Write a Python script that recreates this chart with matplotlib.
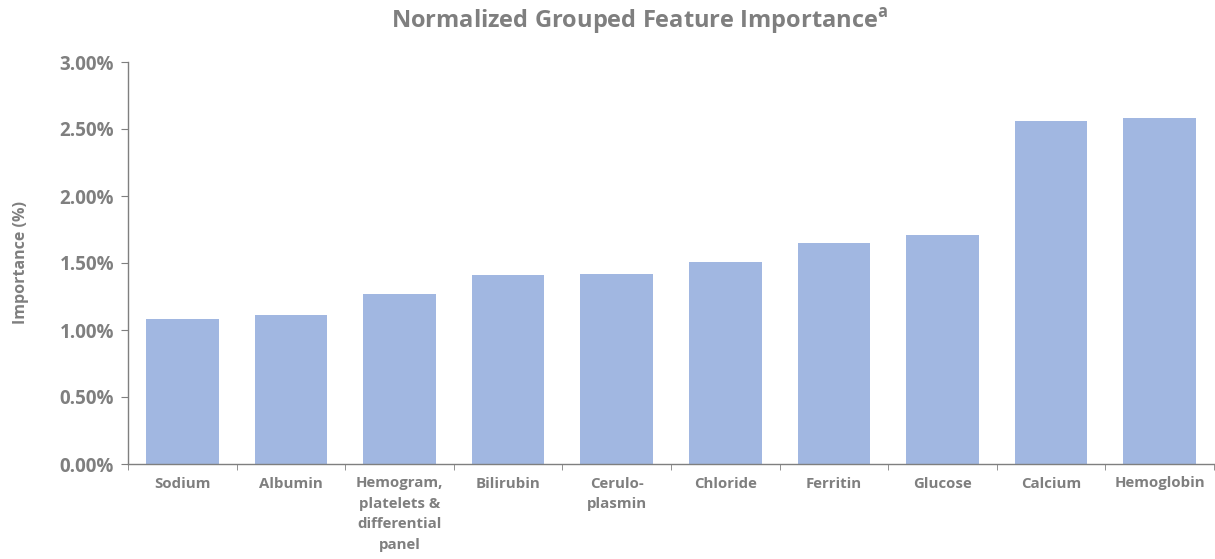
import matplotlib.pyplot as plt
from matplotlib.ticker import PercentFormatter
import numpy as np

# --- Data ---
categories = ["Sodium", "Albumin", "Hemogram,\nplatelets &\ndifferential\npanel",
              "Bilirubin", "Cerulo-\nplasmin", "Chloride", "Ferritin",
              "Glucose", "Calcium", "Hemoglobin"]
importance = [1.08, 1.11, 1.27, 1.41, 1.42, 1.51, 1.65, 1.71, 2.56, 2.58]

GRAY = "#7F7F7F"
BAR = "#A1B7E1"

plt.rcParams["font.family"] = ["Open Sans", "DejaVu Sans"]
plt.rcParams["mathtext.fontset"] = "custom"
plt.rcParams["mathtext.rm"] = "Open Sans"
plt.rcParams["mathtext.bf"] = "Open Sans:bold"

fig = plt.figure(figsize=(12.15, 5.59), dpi=100)
ax = fig.add_axes([128 / 1215, 1 - 464 / 559, 1086 / 1215, 402 / 559])

x = np.arange(len(categories))
ax.bar(x, importance, width=0.67, color=BAR)

ax.set_xlim(-0.5, len(categories) - 0.5)
ax.set_ylim(0, 3.0)
ax.set_yticks(np.arange(0, 3.01, 0.5))
ax.yaxis.set_major_formatter(PercentFormatter(decimals=2))

# category labels centred, ticks on the boundaries
ax.set_xticks(x)
ax.set_xticklabels(categories, fontsize=10.8, fontweight="bold", color=GRAY,
                   linespacing=1.58, va="top")
ax.tick_params(axis="x", length=0, pad=9)
ax.set_xticks(np.arange(-0.5, len(categories)), minor=True)
ax.tick_params(axis="x", which="minor", length=4, color=GRAY, direction="out")

ax.tick_params(axis="y", length=5, color=GRAY, labelsize=13.5,
               labelcolor=GRAY, pad=5)
for lab in ax.get_yticklabels():
    lab.set_fontweight("bold")

for s in ["top", "right"]:
    ax.spines[s].set_visible(False)
for s in ["left", "bottom"]:
    ax.spines[s].set_color(GRAY)
    ax.spines[s].set_linewidth(1.0)

ax.set_ylabel("Importance (%)", fontsize=11.5, fontweight="bold", color=GRAY,
              labelpad=22)

fig.text(640 / 1215, 1 - 22 / 559,
         r"Normalized Grouped Feature Importance$^{\mathbf{a}}$",
         ha="center", va="center", fontsize=17, fontweight="bold", color=GRAY)

fig.savefig("out.png", dpi=100)
